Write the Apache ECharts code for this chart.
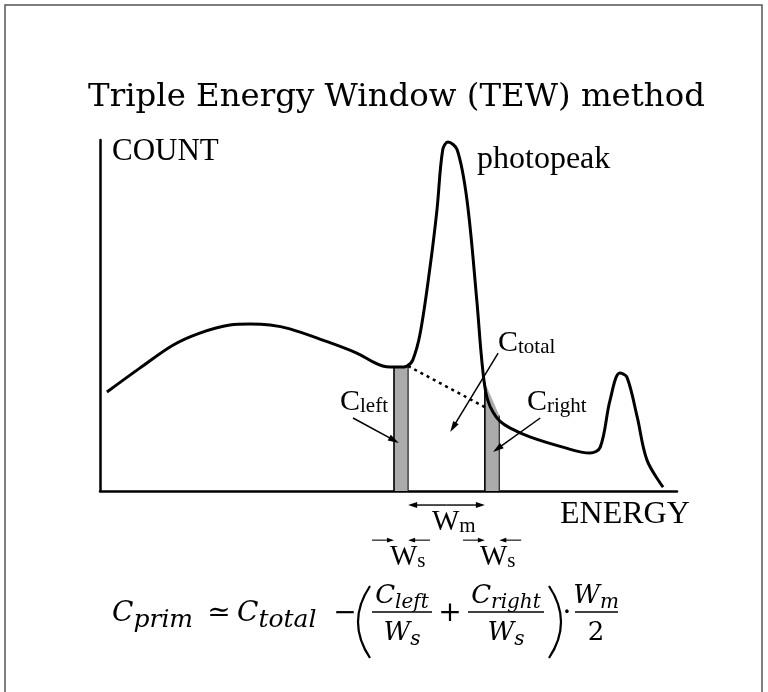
<!DOCTYPE html>
<html><head><meta charset="utf-8">
<script src="https://cdn.jsdelivr.net/npm/echarts@6/dist/echarts.min.js"></script>
<style>html,body{margin:0;padding:0;background:#fff}#c{width:768px;height:692px}</style>
</head><body><div id="c"></div>
<script>
// ---- spectrum (arbitrary units) ----
const energy = [1.2, 6.9, 12.7, 17.3, 22.5, 26.0, 29.5, 32.9, 38.6, 44.5,
                47.3, 49.0, 50.3, 52.0, 53.2, 54.2, 55.5, 57.2, 58.4, 59.4,
                60.3, 61.9, 63.6, 65.3, 66.0, 66.6, 67.2, 68.1, 69.3, 71.1,
                74.5, 80.2, 84.9, 86.7, 88.4, 90.1, 91.3, 93.1, 94.8, 97.6];
const counts = [28.2, 35.0, 41.6, 45.0, 47.3, 47.6, 47.3, 46.2, 43.0, 39.3,
                36.8, 35.6, 35.3, 35.3, 35.6, 37.3, 45.0, 63.8, 80.1, 97.2,
                99.4, 97.2, 82.9, 54.4, 40.2, 30.8, 25.9, 22.5, 19.9, 17.9,
                15.4, 12.5, 10.8, 12.5, 25.9, 33.6, 32.5, 21.1, 8.8, 1.1];
// ---- sub-windows ----
const windowNames = ['C_left', 'C_right'];
const windowStart = [50.95, 66.7];
const windowEnd = [53.4, 69.2];
const windowTopStart = [35.3, 31.0];
const windowTopEnd = [35.6, 21.5];
// ---- trapezoidal scatter estimate (dotted) ----
const bgEnergy = [53.4, 66.7];
const bgCounts = [35.6, 23.9];
// ---- texts ----
const titleText = 'Triple Energy Window (TEW) method';
const yName = 'COUNT';
const xName = 'ENERGY';
const peakName = 'photopeak';

const chart = echarts.init(document.getElementById('c'), null, {renderer: 'canvas'});
function axis() {
  return {type: 'value', min: 0, max: 100,
    axisLine: {show: true, onZero: false, lineStyle: {color: '#000', width: 2.5}},
    axisTick: {show: false}, axisLabel: {show: false}, splitLine: {show: false}};
}
chart.setOption({
  animation: false,
  backgroundColor: '#fff',
  grid: {left: 100, right: 91, top: 140, bottom: 201},
  xAxis: axis(),
  yAxis: axis(),
  series: [
    {
      type: 'custom', name: 'windows', z: 2,
      encode: {x: [0, 1], y: [2, 3]},
      data: windowStart.map((s, i) => [s, windowEnd[i], windowTopStart[i], windowTopEnd[i], windowNames[i]]),
      renderItem: function (params, api) {
        const x0 = api.value(0), x1 = api.value(1), t0 = api.value(2), t1 = api.value(3);
        const a = api.coord([x0, 0]), b = api.coord([x0, t0]), c = api.coord([x1, t1]), d = api.coord([x1, 0]);
        return {type: 'group', children: [
          {type: 'polygon', shape: {points: [a, b, c, d]}, style: {fill: '#ababab'}},
          {type: 'line', shape: {x1: a[0], y1: a[1], x2: b[0], y2: b[1]}, style: {stroke: '#000', lineWidth: 1.6}},
          {type: 'line', shape: {x1: d[0], y1: d[1], x2: c[0], y2: c[1]}, style: {stroke: '#222', lineWidth: 1.2}}
        ]};
      }
    },
    {
      type: 'line', name: 'spectrum', z: 3, smooth: 0.35, symbol: 'none',
      data: energy.map((e, i) => [e, counts[i]]),
      lineStyle: {color: '#000', width: 3}
    },
    {
      type: 'line', name: 'scatter estimate', z: 3, symbol: 'none',
      data: bgEnergy.map((e, i) => [e, bgCounts[i]]),
      lineStyle: {color: '#000', width: 2.5, type: [3, 4]}
    }
  ]
});

const P = (x, y) => chart.convertToPixel({gridIndex: 0}, [x, y]);
const ctx = document.createElement('canvas').getContext('2d');
function fontStr(size, family, style, weight) { return (style || 'normal') + ' ' + (weight || 'normal') + ' ' + size + 'px ' + family; }
function measure(t, font) { ctx.font = font; return ctx.measureText(t).width; }
function T(x, base, text, size, family, style, align, weight) {
  const font = fontStr(size, family, style, weight);
  return {type: 'text', x: x, y: base - 0.34 * size, z: 20,
    style: {text: text, font: font, fill: '#000', align: align || 'left', verticalAlign: 'middle',
            textAlign: align || 'left', textVerticalAlign: 'middle'}};
}
const SERIF = "'Liberation Serif'";
const DJ = "'DejaVu Serif'";
function sym(x, base, main, sub, ms, ss, drop, family, style) {
  const w1 = measure(main, fontStr(ms, family, style));
  const w2 = measure(sub, fontStr(ss, family, style));
  return {width: w1 + w2, els: [T(x, base, main, ms, family, style), T(x + w1, base + drop, sub, ss, family, style)]};
}
function symC(cx, base, main, sub, ms, ss, drop, family, style) {
  const w1 = measure(main, fontStr(ms, family, style));
  const w2 = measure(sub, fontStr(ss, family, style));
  return sym(cx - (w1 + w2) / 2, base, main, sub, ms, ss, drop, family, style).els;
}
function arrow(a, b, lw, hl, hw) {
  const dx = b[0] - a[0], dy = b[1] - a[1], L = Math.hypot(dx, dy), ux = dx / L, uy = dy / L;
  const bx = b[0] - ux * hl, by = b[1] - uy * hl;
  return [
    {type: 'line', z: 20, shape: {x1: a[0], y1: a[1], x2: bx + ux, y2: by + uy}, style: {stroke: '#000', lineWidth: lw}},
    {type: 'polygon', z: 20, shape: {points: [[b[0], b[1]], [bx - uy * hw, by + ux * hw], [bx + uy * hw, by - ux * hw]]}, style: {fill: '#000'}}
  ];
}
function hline(x1, x2, y, lw) { return {type: 'line', z: 20, shape: {x1: x1, y1: y, x2: x2, y2: y}, style: {stroke: '#000', lineWidth: lw}}; }

const els = [];
els.push({type: 'rect', z: 1, shape: {x: 5, y: 5, width: 757, height: 720}, style: {fill: 'none', stroke: '#555', lineWidth: 1.5}});
const tSize = 32 * 617 / measure(titleText, fontStr(32, DJ));
els.push(T(396.5, 109, titleText, tSize, DJ, 'normal', 'center'));
els.push(T(112, 162, yName, 31, SERIF));
els.push(T(477, 170, peakName, 32, SERIF));
els.push(T(560, 525, xName, 32, SERIF));
els.push(...sym(340, 412, 'C', 'left', 30, 21, 2, SERIF).els);
els.push(...sym(498, 353, 'C', 'total', 30, 21, 2, SERIF).els);
els.push(...sym(527, 412, 'C', 'right', 30, 21, 2, SERIF).els);
els.push(...arrow(P(43.85, 20.8), P(51.8, 13.7), 1.5, 11, 3.2));
els.push(...arrow(P(69.0, 39.3), P(60.7, 16.8), 1.5, 11, 3.2));
els.push(...arrow(P(76.3, 20.8), P(68.1, 11.1), 1.5, 11, 3.2));
const wmA = P(windowEnd[0], -4.0), wmB = P(windowStart[1], -4.0);
const wmMid = [(wmA[0] + wmB[0]) / 2, wmA[1]];
els.push(...arrow(wmMid, wmA, 1.4, 9, 3));
els.push(...arrow(wmMid, wmB, 1.4, 9, 3));
[0, 1].forEach(i => {
  els.push(...arrow(P(windowStart[i] - 3.8, -14), P(windowStart[i], -14), 1.1, 7, 2.4));
  els.push(...arrow(P(windowEnd[i] + 3.8, -14), P(windowEnd[i], -14), 1.1, 7, 2.4));
});
els.push(...sym(432, 532, 'W', 'm', 29, 21, 2, SERIF).els);
els.push(...sym(390, 567, 'W', 's', 29, 21, 2, SERIF).els);
els.push(...sym(480, 567, 'W', 's', 29, 21, 2, SERIF).els);

// formula
const fb = 623, I = 'italic';
els.push(...sym(112, fb, 'C', 'prim', 28, 25, 6, DJ, I).els);
els.push(T(219, fb, '\u2243', 28, DJ, 'normal', 'center'));
els.push(...sym(237, fb, 'C', 'total', 28, 25, 6, DJ, I).els);
els.push(T(345, fb, '\u2212', 28, DJ, 'normal', 'center'));
els.push({type: 'bezierCurve', z: 20, shape: {x1: 370, y1: 586, x2: 370, y2: 658, cpx1: 346, cpy1: 622}, style: {stroke: '#000', lineWidth: 2.2, fill: 'none'}});
els.push(hline(372, 432, 612, 1.3));
els.push(...symC(402, 605, 'C', 'left', 26, 20, 5, DJ, I));
els.push(...symC(402, 642, 'W', 's', 26, 20, 5, DJ, I));
els.push(T(450, fb, '+', 28, DJ, 'normal', 'center'));
els.push(hline(468, 544, 612, 1.3));
els.push(...symC(506, 605, 'C', 'right', 26, 20, 5, DJ, I));
els.push(...symC(506, 642, 'W', 's', 26, 20, 5, DJ, I));
els.push({type: 'bezierCurve', z: 20, shape: {x1: 549, y1: 586, x2: 549, y2: 658, cpx1: 573, cpy1: 622}, style: {stroke: '#000', lineWidth: 2.2, fill: 'none'}});
els.push(T(567, fb, '\u00B7', 28, DJ, 'normal', 'center'));
els.push(hline(575, 618, 612, 1.3));
els.push(...symC(596, 605, 'W', 'm', 26, 20, 5, DJ, I));
els.push(T(596, 642, '2', 26, DJ, 'normal', 'center'));

chart.setOption({graphic: {elements: els}});
</script>
</body></html>
